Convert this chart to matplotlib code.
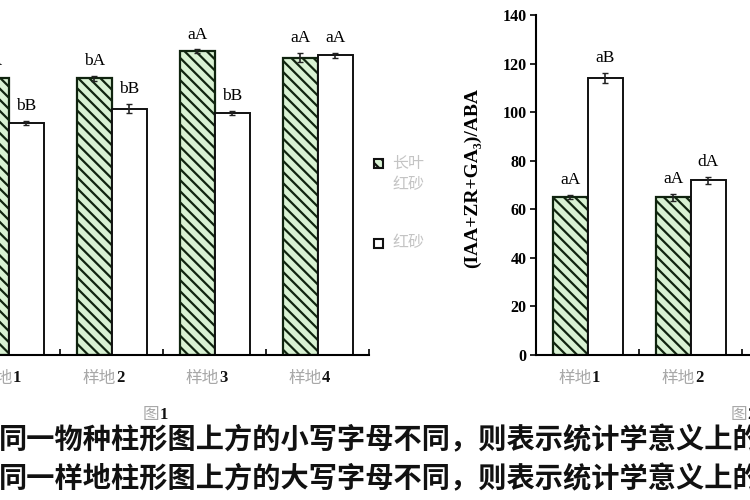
import matplotlib
matplotlib.use("Agg")
import matplotlib.pyplot as plt
from matplotlib.patches import Rectangle
import matplotlib.transforms as mtransforms
import numpy as np

# 图1 data (样地1-4)
sites1 = ['样地1', '样地2', '样地3', '样地4']
long_leaf1 = [114, 114, 125, 122.5]
long_leaf1_err = [0.8, 1.0, 0.8, 2.0]
hongsha1 = [95.5, 101.5, 99.5, 123.5]
hongsha1_err = [0.8, 2.0, 0.8, 1.0]
letters_long1 = ['bA', 'bA', 'aA', 'aA']
letters_hong1 = ['bB', 'bB', 'bB', 'aA']

# 图2 data (only 样地1, 样地2 visible)
sites2 = ['样地1', '样地2']
long_leaf2 = [65, 65]
long_leaf2_err = [0.8, 1.5]
hongsha2 = [114, 72]
hongsha2_err = [2.0, 1.5]
letters_long2 = ['aA', 'aA']
letters_hong2 = ['aB', 'dA']

yticks2 = [0, 20, 40, 60, 80, 100, 120, 140]

notes = ['同一物种柱形图上方的小写字母不同，则表示统计学意义上的',
         '同一样地柱形图上方的大写字母不同，则表示统计学意义上的']

GREEN_FACE = '#d9f2d3'
GREEN_HATCH = '#1d4a22'
SERIF = ['Liberation Serif', 'DejaVu Serif']
CJK = ['Noto Sans CJK SC', 'DejaVu Sans']

plt.rcParams['hatch.linewidth'] = 1.6
plt.rcParams['hatch.color'] = GREEN_HATCH

fig = plt.figure(figsize=(7.5, 5), dpi=100)


def draw_panel(ax, sites, g_vals, g_err, w_vals, w_err, g_lab, w_lab):
    x = np.arange(len(sites))
    w = 0.34
    ax.bar(x - w / 2, g_vals, w, color=GREEN_FACE, edgecolor='#10240f',
           hatch='\\\\\\', linewidth=1.6, zorder=2)
    ax.bar(x + w / 2, w_vals, w, color='white', edgecolor='#111111',
           linewidth=1.4, zorder=2)
    ax.errorbar(x - w / 2, g_vals, yerr=g_err, fmt='none', ecolor='#222222',
                elinewidth=1.2, capsize=2.5, zorder=3)
    ax.errorbar(x + w / 2, w_vals, yerr=w_err, fmt='none', ecolor='#222222',
                elinewidth=1.2, capsize=2.5, zorder=3)
    for xi, v, e, t in zip(x - w / 2, g_vals, g_err, g_lab):
        ax.annotate(t, (xi, v + e), xytext=(0, 5), textcoords='offset points',
                    ha='center', va='bottom', fontsize=12.5, family=SERIF,
                    annotation_clip=False)
    for xi, v, e, t in zip(x + w / 2, w_vals, w_err, w_lab):
        ax.annotate(t, (xi, v + e), xytext=(0, 5), textcoords='offset points',
                    ha='center', va='bottom', fontsize=12.5, family=SERIF,
                    annotation_clip=False)

    ax.set_xlim(-0.5, 3.5)
    ax.set_ylim(0, 140)
    ax.spines['top'].set_visible(False)
    ax.spines['right'].set_visible(False)
    ax.spines['bottom'].set_linewidth(1.5)
    ax.spines['left'].set_linewidth(1.5)
    ax.set_xticks([0.5, 1.5, 2.5, 3.5])
    ax.set_xticklabels([])
    ax.tick_params(axis='x', direction='in', length=4, width=1.2)

    # tick labels: grey characters, black digit
    trans = mtransforms.blended_transform_factory(ax.transData, ax.transAxes)
    for xi, s in zip(x, sites):
        ax.text(xi + 0.04, -0.068, s[:-1], transform=trans, ha='right',
                va='center', fontsize=12, family=CJK, color='#a8a8a8')
        ax.text(xi + 0.04, -0.068, s[-1], transform=trans, ha='left',
                va='center', fontsize=12, family=SERIF, color='#111111',
                fontweight='bold')


ax1 = fig.add_axes([-0.0567, 0.29, 0.5493, 0.68])
draw_panel(ax1, sites1, long_leaf1, long_leaf1_err, hongsha1, hongsha1_err,
           letters_long1, letters_hong1)
ax1.set_yticks([])

ax2 = fig.add_axes([0.7153, 0.29, 0.5493, 0.68])
draw_panel(ax2, sites2, long_leaf2, long_leaf2_err, hongsha2, hongsha2_err,
           letters_long2, letters_hong2)
ax2.set_yticks(yticks2)
ax2.tick_params(axis='y', direction='out', length=4, width=1.2, pad=3)
for lab in ax2.get_yticklabels():
    lab.set_family(SERIF)
    lab.set_fontsize(11.5)
    lab.set_fontweight('bold')

fig.text(0.630, 0.645, '(IAA+ZR+GA₃)/ABA', rotation=90, ha='center',
         va='center', fontsize=14, family=SERIF, fontweight='bold')

# legend, drawn by hand between the panels
fig.patches.append(Rectangle((0.498, 0.665), 0.012, 0.018,
                             transform=fig.transFigure, facecolor=GREEN_FACE,
                             edgecolor='#111111', hatch='\\\\\\', linewidth=1.5))
fig.patches.append(Rectangle((0.498, 0.505), 0.012, 0.018,
                             transform=fig.transFigure, facecolor='white',
                             edgecolor='#111111', linewidth=1.5))
fig.text(0.523, 0.674, '长叶', ha='left', va='center', fontsize=11.5,
         family=CJK, color='#c4c4c4')
fig.text(0.523, 0.630, '红砂', ha='left', va='center', fontsize=11.5,
         family=CJK, color='#c4c4c4')
fig.text(0.523, 0.514, '红砂', ha='left', va='center', fontsize=11.5,
         family=CJK, color='#c4c4c4')

# figure captions
fig.text(0.213, 0.170, '图', ha='right', va='center', fontsize=12,
         family=CJK, color='#a8a8a8')
fig.text(0.213, 0.170, '1', ha='left', va='center', fontsize=12,
         family=SERIF, fontweight='bold', color='#111111')
fig.text(0.997, 0.170, '图', ha='right', va='center', fontsize=12,
         family=CJK, color='#a8a8a8')
fig.text(0.997, 0.170, '2', ha='left', va='center', fontsize=12,
         family=SERIF, fontweight='bold', color='#111111')

fig.text(-0.002, 0.120, notes[0], ha='left', va='center', fontsize=20.3,
         family=CJK, fontweight='bold', color='#111111')
fig.text(-0.002, 0.042, notes[1], ha='left', va='center', fontsize=20.3,
         family=CJK, fontweight='bold', color='#111111')

fig.savefig('out.png', dpi=100)
